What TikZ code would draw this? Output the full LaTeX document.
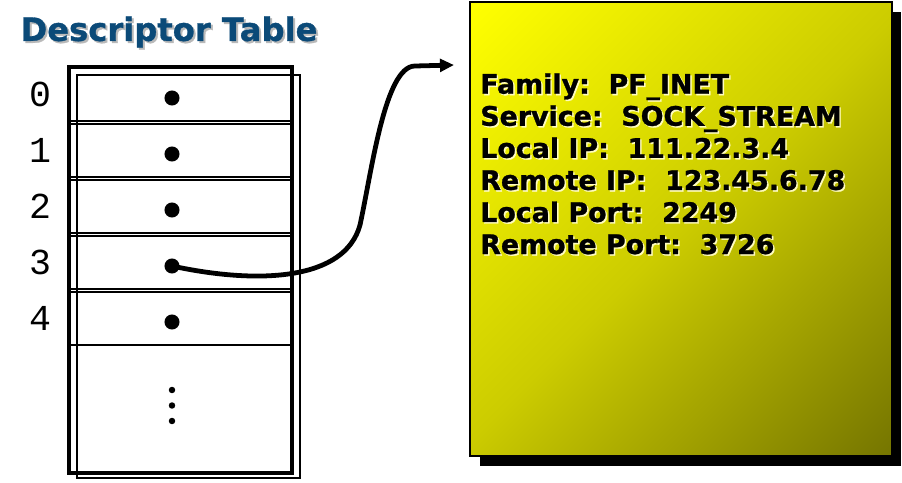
\documentclass[tikz,border=0pt]{standalone}
\usepackage{fontspec}
\setmainfont{DejaVu Sans}
\newfontfamily\numfont{Liberation Mono}
\newfontfamily\heavyfont[FakeBold=1]{DejaVu Sans Bold}
\usepackage{tikz}
\usetikzlibrary{arrows.meta,positioning,calc}
\definecolor{titleblue}{HTML}{0B4A78}
\definecolor{boxtop}{HTML}{FFFF00}
\definecolor{boxmid}{HTML}{CCCC00}
\definecolor{boxbot}{HTML}{767600}
\pgfdeclarehorizontalshading{sockshade}{100bp}{color(0bp)=(boxtop); color(15bp)=(boxtop); color(50bp)=(boxmid); color(85bp)=(boxbot); color(100bp)=(boxbot)}
\newcommand{\sockinfo}{Family:\ \ PF\_INET\\Service:\ \ SOCK\_STREAM\\Local IP:\ \ 111.22.3.4\\Remote IP:\ \ 123.45.6.78\\Local Port:\ \ 2249\\Remote Port:\ \ 3726}

\begin{document}
\begin{tikzpicture}[x=0.025cm,y=-0.025cm,
  every node/.style={inner sep=0pt},
  row/.style={draw,line width=1.8pt},
  dot/.style={circle,fill,minimum size=10.7pt},
  smalldot/.style={circle,fill,minimum size=4.6pt},
  lbl/.style={font=\numfont\fontsize{26}{26}\selectfont},
  hdr/.style={font=\heavyfont\fontsize{22.9}{26}\selectfont},
  info/.style={anchor=north west,align=left,font=\heavyfont\fontsize{19.1}{22.8}\selectfont},
  ptr/.style={-{Triangle[length=10pt,width=9pt]},line width=3.4pt,line join=round}]
 \useasboundingbox (0,0) rectangle (902,482);
 % socket structure
 \fill (480,12) rectangle (901,466);
 \draw[line width=1.2pt,shading=sockshade,shading angle=-45] (470,2) rectangle (892,456);
 \node[info,text=yellow!25!white] (infoshadow) at (481.5,74.5) {\sockinfo};
 \node[info] (info) at (480,73) {\sockinfo};
 % descriptor table
 \node[hdr,text=gray!55] (titleshadow) at (171,34) {Descriptor Table};
 \node[hdr,text=titleblue] (title) at (169,32) {Descriptor Table};
 \draw[line width=2.4pt] (69,67) rectangle (292,473);
 \draw[line width=2pt] (77,75) rectangle (300,478);
 \foreach \i in {0,...,4}{
   \draw[row] (69,68+56*\i) rectangle (291,121+56*\i);
   \node[dot] (d\i) at (172,98+56*\i) {};
   \node[lbl] (n\i) at (40,94+56*\i) {\i};
 }
 \foreach \j in {0,1,2}
   \node[smalldot] (v\j) at (172,390+15.5*\j) {};
 % pointer to the socket
 \coordinate (tip) at (454,65);
 \draw[ptr] (d3.center) .. controls (260,285) and (345,280) .. (360,225)
   .. controls (372,170) and (385,66) .. (415,66) -- (tip);
\end{tikzpicture}
\end{document}
